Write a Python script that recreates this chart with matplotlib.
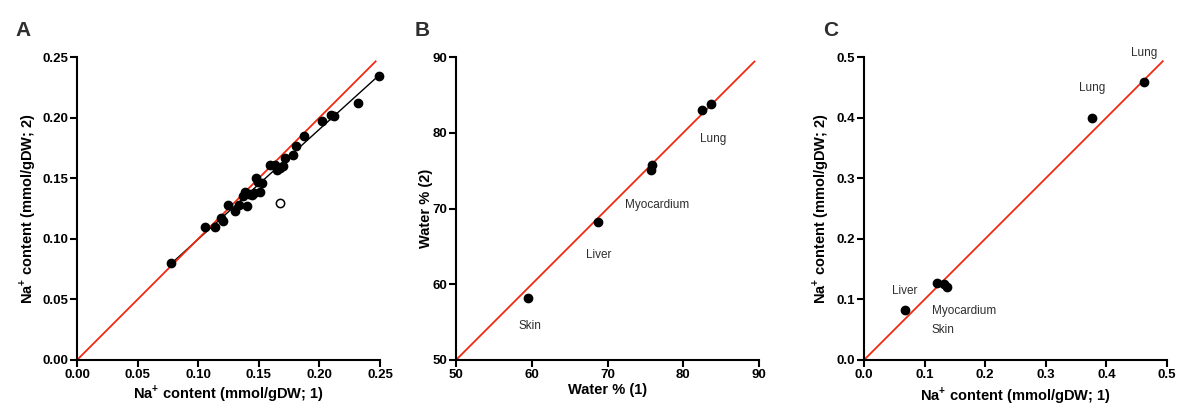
import numpy as np
import matplotlib
matplotlib.use("Agg")
import matplotlib.pyplot as plt

# ---------------- data ----------------
# Panel A: Na+ content, method 1 vs method 2 (filled = included, open = outlier)
a_x = [0.0779, 0.1060, 0.1140, 0.1190, 0.1205, 0.1248, 0.1302, 0.1338, 0.1366,
       0.1390, 0.1404, 0.1421, 0.1440, 0.1459, 0.1480, 0.1509, 0.1523, 0.1495,
       0.1592, 0.1633, 0.1647, 0.1674, 0.1696, 0.1716, 0.1784, 0.1810, 0.1872,
       0.2018, 0.2095, 0.2123, 0.2321, 0.2492]
a_y = [0.0804, 0.1095, 0.1096, 0.1170, 0.1143, 0.1280, 0.1230, 0.1280, 0.1350,
       0.1385, 0.1267, 0.1368, 0.1360, 0.1382, 0.1501, 0.1388, 0.1462, 0.1468,
       0.1608, 0.1613, 0.1567, 0.1582, 0.1597, 0.1665, 0.1695, 0.1762, 0.1845,
       0.1969, 0.2018, 0.2013, 0.2120, 0.2340]
a_out_x = [0.1677]
a_out_y = [0.1294]

# Panel B: water %
b_x = [59.5, 68.7, 75.9, 75.8, 82.5, 83.7]
b_y = [58.2, 68.2, 75.8, 75.1, 83.0, 83.8]
b_labels = ["Skin", "Liver", "Myocardium", "Lung"]
b_label_pos = [(59.7, 54.5), (68.9, 63.8), (76.5, 70.5), (83.9, 79.2)]

# Panel C: Na+ content per tissue
c_x = [0.0676, 0.1209, 0.1319, 0.1368, 0.3769, 0.4621]
c_y = [0.0820, 0.1278, 0.1256, 0.1200, 0.3987, 0.4587]
c_labels = ["Liver", "Myocardium", "Skin", "Lung", "Lung"]
c_label_pos = [(0.0676, 0.114), (0.1115, 0.081), (0.1115, 0.0496),
               (0.377, 0.4488), (0.462, 0.5066)]
c_label_ha = ["center", "left", "left", "center", "center"]

# ---------------- style ----------------
plt.rcParams["font.family"] = ["Liberation Sans", "DejaVu Sans"]
plt.rcParams["mathtext.fontset"] = "custom"
plt.rcParams["mathtext.rm"] = "Liberation Sans:bold"
plt.rcParams["mathtext.bf"] = "Liberation Sans:bold"

RED = "#f02a10"
TXT = "#2e2e2e"
na_x = r"Na$^{\mathbf{+}}$ content (mmol/gDW; 1)"
na_y = r"Na$^{\mathbf{+}}$ content (mmol/gDW; 2)"

fig = plt.figure(figsize=(11.89, 4.05), dpi=100)
W, H = 1189, 405


def make_ax(left_px):
    return fig.add_axes([left_px / W, 45 / H, 303 / W, 303 / H])


def style(ax, lim, ticks, fmt, xlabel, ylabel, ylab_x, xlab_y):
    ax.set_xlim(lim)
    ax.set_ylim(lim)
    ax.set_xticks(ticks)
    ax.set_yticks(ticks)
    ax.set_xticklabels([fmt.format(t) for t in ticks])
    ax.set_yticklabels([fmt.format(t) for t in ticks])
    for s in ["top", "right"]:
        ax.spines[s].set_visible(False)
    for s in ["left", "bottom"]:
        ax.spines[s].set_linewidth(1.5)
    ax.tick_params(direction="out", length=5, width=1.5, labelsize=9.5, pad=1.5)
    for lab in ax.get_xticklabels() + ax.get_yticklabels():
        lab.set_fontweight("bold")
    ax.set_xlabel(xlabel, fontsize=10.5, fontweight="bold", va="center")
    ax.set_ylabel(ylabel, fontsize=10.5, fontweight="bold", va="center")
    ax.xaxis.set_label_coords(0.5, xlab_y)
    ax.yaxis.set_label_coords(ylab_x, 0.5)


# ---------- A ----------
axA = make_ax(77)
axA.plot([0, 0.2464], [0, 0.2464], color=RED, lw=1.3, zorder=2, clip_on=False)
slope, icpt = np.polyfit(a_x, a_y, 1)
fx = np.array([min(a_x), max(a_x)])
axA.plot(fx, slope * fx + icpt, color="black", lw=1.0, zorder=1)
axA.plot(a_x, a_y, "o", color="black", ms=6, zorder=3, clip_on=False)
axA.plot(a_out_x, a_out_y, "o", mfc="white", mec="black", mew=1.1, ms=6, zorder=3)
ta = [0, 0.05, 0.10, 0.15, 0.20, 0.25]
style(axA, (0, 0.25), ta, "{:.2f}", na_x, na_y, -0.162, -0.112)

# ---------- B ----------
axB = make_ax(456)
axB.plot([50, 89.4], [50, 89.4], color=RED, lw=1.3, zorder=2, clip_on=False)
axB.plot(b_x, b_y, "o", color="black", ms=6, zorder=3)
for lab, (px, py) in zip(b_labels, b_label_pos):
    axB.text(px, py, lab, ha="center", va="center", fontsize=8.5, color=TXT)
tb = [50, 60, 70, 80, 90]
style(axB, (50, 90), tb, "{:d}", "Water % (1)", "Water % (2)", -0.098, -0.099)

# ---------- C ----------
axC = make_ax(864)
axC.plot([0, 0.493], [0, 0.493], color=RED, lw=1.3, zorder=2, clip_on=False)
axC.plot(c_x, c_y, "o", color="black", ms=6, zorder=3)
for lab, (px, py), ha in zip(c_labels, c_label_pos, c_label_ha):
    axC.text(px, py, lab, ha=ha, va="center", fontsize=8.5, color=TXT, clip_on=False)
tc = [0, 0.1, 0.2, 0.3, 0.4, 0.5]
style(axC, (0, 0.5), tc, "{:.1f}", na_x, na_y, -0.142, -0.117)

# panel letters
for letter, xpx in [("A", 23), ("B", 422), ("C", 831)]:
    fig.text(xpx / W, 1 - 31 / H, letter, ha="center", va="center",
             fontsize=15, fontweight="bold", color=TXT)

fig.savefig("out.png", dpi=100)
